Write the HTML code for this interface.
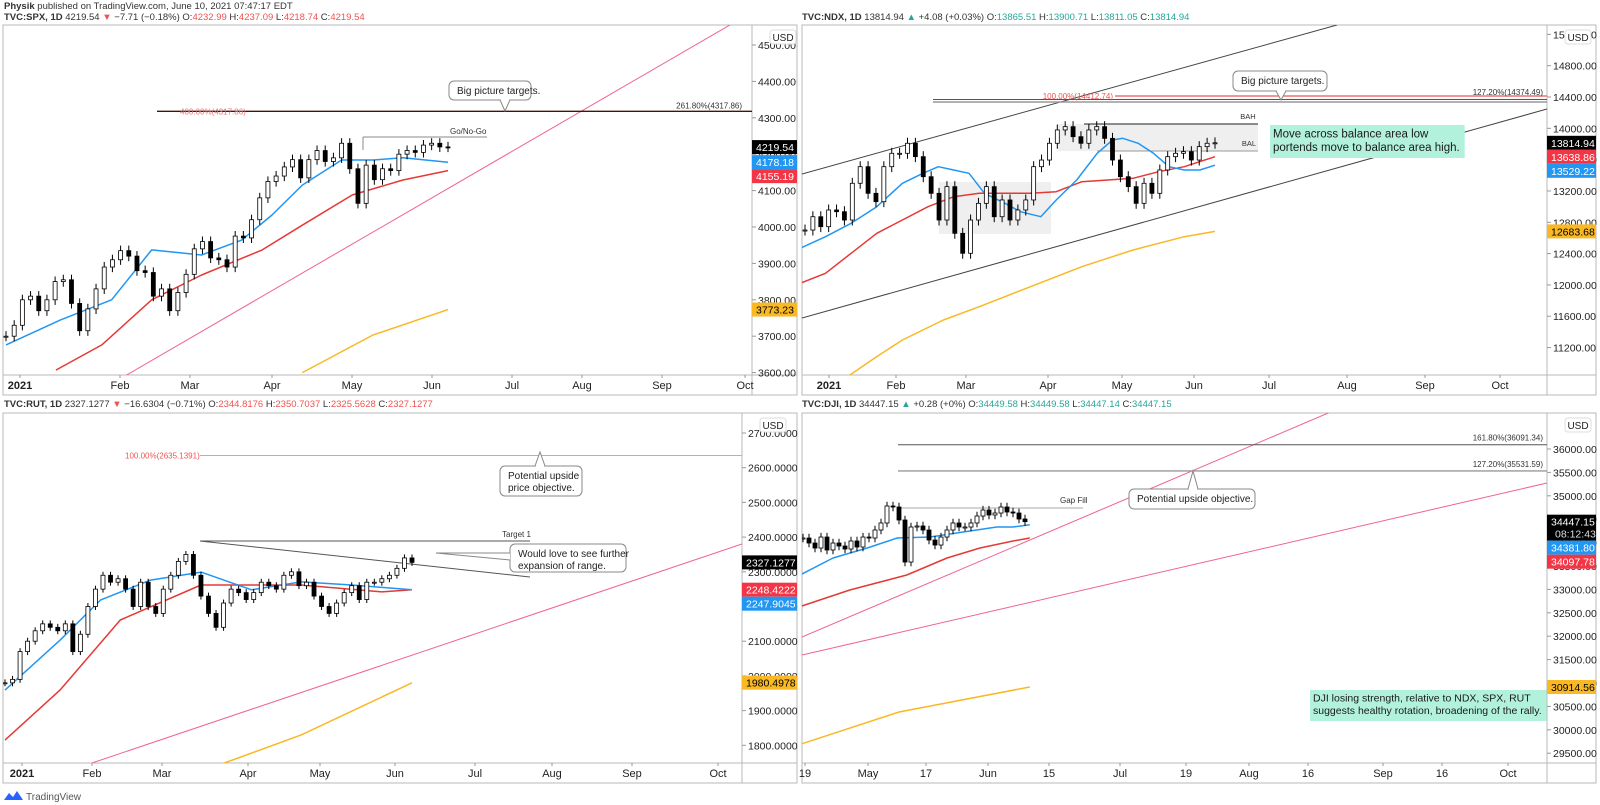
<!DOCTYPE html>
<html><head><meta charset="utf-8">
<style>
body{margin:0;background:#fff;}
svg{display:block;font-family:"Liberation Sans",sans-serif;}
</style></head>
<body>
<svg id="c" width="1600" height="805" viewBox="0 0 1600 805" xmlns="http://www.w3.org/2000/svg">
<rect x="0" y="0" width="1600" height="805" fill="#fff"/>
<text x="4" y="9" font-size="9.5" fill="#333"><tspan font-weight="bold">Physik</tspan> published on TradingView.com, June 10, 2021 07:47:17 EDT</text>
<text x="4" y="20" font-size="9.5" fill="#333"><tspan font-weight="bold">TVC:SPX, 1D</tspan> 4219.54 <tspan fill="#ef5350">▼</tspan> −7.71 (−0.18%) O:<tspan fill="#ef5350">4232.99</tspan> H:<tspan fill="#ef5350">4237.09</tspan> L:<tspan fill="#ef5350">4218.74</tspan> C:<tspan fill="#ef5350">4219.54</tspan></text>
<text x="802" y="20" font-size="9.5" fill="#333"><tspan font-weight="bold">TVC:NDX, 1D</tspan> 13814.94 <tspan fill="#26a69a">▲</tspan> +4.08 (+0.03%) O:<tspan fill="#26a69a">13865.51</tspan> H:<tspan fill="#26a69a">13900.71</tspan> L:<tspan fill="#26a69a">13811.05</tspan> C:<tspan fill="#26a69a">13814.94</tspan></text>
<text x="4" y="407" font-size="9.5" fill="#333"><tspan font-weight="bold">TVC:RUT, 1D</tspan> 2327.1277 <tspan fill="#ef5350">▼</tspan> −16.6304 (−0.71%) O:<tspan fill="#ef5350">2344.8176</tspan> H:<tspan fill="#ef5350">2350.7037</tspan> L:<tspan fill="#ef5350">2325.5628</tspan> C:<tspan fill="#ef5350">2327.1277</tspan></text>
<text x="802" y="407" font-size="9.5" fill="#333"><tspan font-weight="bold">TVC:DJI, 1D</tspan> 34447.15 <tspan fill="#26a69a">▲</tspan> +0.28 (+0%) O:<tspan fill="#26a69a">34449.58</tspan> H:<tspan fill="#26a69a">34449.58</tspan> L:<tspan fill="#26a69a">34447.14</tspan> C:<tspan fill="#26a69a">34447.15</tspan></text>
<g>
<path d="M4 800 L9 793 L13 797 L17 791 L23 800 Z" fill="#2962ff"/>
<text x="26" y="800" font-size="10" fill="#555">TradingView</text>
</g>
</svg>
<script>
// ---------- DATA ----------
const SPX_CLOSE=[3700,3730,3800,3810,3770,3800,3850,3855,3790,3715,3775,3830,3890,3910,3935,3920,3880,3875,3810,3830,3770,3820,3870,3940,3960,3915,3910,3890,3975,3970,4020,4080,4125,4140,4165,4185,4135,4185,4210,4180,4190,4230,4160,4065,4170,4130,4160,4155,4200,4210,4205,4225,4230,4220,4219.54];
const SPX_BLUE_IDX=[0,6.7,12.9,17.8,23.9,28.8,32.5,36.2,41,44.8,48.5,54];
const SPX_BLUE=[3676,3745,3800,3937,3923,3964,4033,4115,4184,4184,4190,4178];
const SPX_RED_IDX=[6.1,11.7,17.8,23.9,31.3,36.2,42.3,48.5,54];
const SPX_RED=[3607,3676,3800,3868,3937,4005,4088,4129,4155];
const SPX_YEL_IDX=[36.2,44.8,54];
const SPX_YEL=[3600,3703,3773];
const SPX_TICKS=[3600,3700,3800,3900,4000,4100,4200,4300,4400,4500];
const SPX_LABEL_VALS=[4219.54,4178.18,4155.19,3773.23];

const NDX_CLOSE=[12701,12871,12744,12957,12935,12829,13298,13510,13170,13063,13510,13681,13681,13809,13638,13382,13170,12829,13255,12659,12404,12829,13042,13255,12871,13085,12829,12957,13085,13510,13595,13809,13979,14021,13893,13809,13979,14021,13872,13595,13382,13255,13042,13298,13170,13468,13638,13681,13702,13595,13766,13809,13814.94];
const NDX_BLUE_IDX=[-0.65,2.6,5.85,9.1,12.35,14.95,16.9,18.86,20.8,22.76,25.36,27.3,29.9,31.86,34.46,37.06,39,40.3,42.26,44.2,46.16,48.1,50.07,52];
const NDX_BLUE=[12467,12616,12787,12999,13298,13425,13510,13468,13425,13170,13042,12935,12871,13085,13340,13681,13851,13872,13809,13681,13510,13468,13468,13529];
const NDX_RED_IDX=[-0.65,2.6,5.85,9.1,12.35,15.6,18.86,22.1,25.36,28.6,31.86,35.1,38.4,41.6,44.86,48.1,52];
const NDX_RED=[12020,12148,12404,12659,12829,12999,13127,13170,13170,13170,13191,13318,13340,13362,13446,13510,13638];
const NDX_YEL_IDX=[5.5,9.1,12.35,17.55,22.1,28.6,35.1,41.6,48.1,52];
const NDX_YEL=[10837,11084,11297,11552,11722,11977,12233,12446,12616,12683];
const NDX_TICKS=[11200,11600,12000,12400,12800,13200,13600,14000,14400,14800,15200];
const NDX_LABEL_VALS=[13814.94,13638.86,13529.22,12683.68];

const RUT_CLOSE=[1980,1990,2070,2100,2130,2150,2140,2130,2150,2070,2120,2200,2250,2290,2270,2280,2250,2200,2270,2200,2180,2250,2290,2330,2350,2290,2230,2180,2140,2210,2250,2240,2220,2240,2270,2260,2250,2290,2300,2260,2270,2230,2200,2180,2210,2240,2260,2220,2270,2270,2280,2290,2310,2340,2327.13];
const RUT_BLUE_IDX=[0,7.3,12.7,19.3,26,32.7,39.3,46,50,54];
const RUT_BLUE=[1959,2103,2219,2276,2299,2248,2271,2262,2255,2248];
const RUT_RED_IDX=[0,7.3,15.3,26,39.3,50,54];
const RUT_RED=[1815,1959,2161,2262,2262,2242,2248];
const RUT_YEL_IDX=[24.7,39.3,54];
const RUT_YEL=[1714,1830,1980];
const RUT_TICKS=[1800,1900,2000,2100,2200,2300,2400,2500,2600,2700];
const RUT_LABEL_VALS=[2327.1277,2248.4222,2247.9045,1980.4978];

const DJI_CLOSE=[34098,33991,33884,34119,33842,33991,33927,33863,34034,33906,34119,34098,34269,34419,34782,34761,34483,33585,34333,34355,34269,34055,33948,34119,34269,34419,34333,34333,34419,34568,34696,34590,34632,34761,34654,34632,34504,34447.15];
const DJI_BLUE_IDX=[-0.5,5,10.7,15.7,21.2,26.7,32.3,35,37.8];
const DJI_BLUE=[33307,33671,33884,34098,34119,34226,34333,34333,34382];
const DJI_RED_IDX=[-2.2,7.8,17.3,24,29.5,35,37.8];
const DJI_RED=[32559,32987,33307,33671,33884,34034,34098];
const DJI_YEL_IDX=[-0.2,16,37.8];
const DJI_YEL=[29700,30380,30914];
const DJI_TICKS=[29500,30000,30500,31000,31500,32000,32500,33000,33500,34000,34500,35000,35500,36000];
const DJI_LABEL_VALS=[34447.15,34381.80,34097.78,30914.56];

const LEFT_MONTHS=['2021','Feb','Mar','Apr','May','Jun','Jul','Aug','Sep','Oct'];
const DJI_MONTHS=['19','May','17','Jun','15','Jul','19','Aug','16','Sep','16','Oct'];

// ---------- RENDER ----------
const NS='http://www.w3.org/2000/svg';
const svg=document.getElementById('c');
function el(tag,attrs,parent){const e=document.createElementNS(NS,tag);for(const k in attrs)e.setAttribute(k,attrs[k]);(parent||svg).appendChild(e);return e;}

function makePanel(cfg){
  const P=Object.assign({},cfg);
  P.yOf=p=>P.y0+(P.p0-p)*P.k;
  P.xOf=i=>P.first+i*(P.last-P.first)/(P.n-1);
  const g=el('g',{});
  
  
  P.g=g;
  const cp=el('clipPath',{id:P.name+'-clip'},g);
  el('rect',{x:P.left,y:P.top,width:P.right-P.left,height:P.bottom-P.top},cp);
  const b=el('rect',{x:P.left,y:P.top,width:P.axisR-P.left,height:P.outerB-P.top,fill:'none',stroke:'#b8b8b8','stroke-width':1},g);
  
  
  el('line',{x1:P.right,y1:P.top,x2:P.right,y2:P.outerB,stroke:'#b8b8b8'},g);
  el('line',{x1:P.left,y1:P.bottom,x2:P.axisR,y2:P.bottom,stroke:'#b8b8b8'},g);
  P.plot=el('g',{'clip-path':'url(#'+P.name+'-clip)'},g);
  return P;
}

function polyline(P,idx,vals,color,name,w){
  const pts=idx.map((i,k)=>P.xOf(i).toFixed(1)+','+P.yOf(vals[k]).toFixed(1)).join(' ');
  const l=el('polyline',{points:pts,fill:'none',stroke:color,'stroke-width':w||1.5,'stroke-linejoin':'round'},P.plot);
  
  
}

function candles(P,closes,wick,bw){
  closes.forEach((c,i)=>{
    const o=i>0?closes[i-1]:closes[0];
    const hi=Math.max(o,c)+wick, lo=Math.min(o,c)-wick;
    const x=P.xOf(i);
    const w=el('line',{x1:x,y1:P.yOf(hi),x2:x,y2:P.yOf(lo),stroke:'#000','stroke-width':1},P.plot);
    
    
    const yt=P.yOf(Math.max(o,c)), yb=P.yOf(Math.min(o,c));
    const r=el('rect',{x:x-bw/2,y:yt,width:bw,height:Math.max(1,yb-yt),fill:c>=o?'#fff':'#000',stroke:'#000','stroke-width':0.8},P.plot);
    
    
  });
}

function axis(P,ticks,dec){
  ticks.forEach(t=>{
    const y=P.yOf(t); if(y<P.top+4||y>P.bottom-2)return;
    el('line',{x1:P.right,y1:y,x2:P.right+4,y2:y,stroke:'#999'},P.g);
    const tx=el('text',{x:P.right+6,y:y+4,'font-size':10.5,fill:'#222'},P.g);
    tx.textContent=t.toFixed(dec);
    
    
  });
  const u=el('rect',{x:P.right+18,y:P.top+5,width:26,height:14,rx:3,fill:'#fff',stroke:'#ddd'},P.g);
  
  
  const ut=el('text',{x:P.right+31,y:P.top+16,'font-size':10,fill:'#222','text-anchor':'middle'},P.g);
  ut.textContent='USD';
  
  
}

function priceLabels(P,vals,colors,dec,extra){
  let lastBottom=-1e9;
  vals.forEach((v,k)=>{
    const h=(k===0&&extra)?26:14;
    let yc=P.yOf(v); let top=yc-7;
    if(top<lastBottom)top=lastBottom;
    lastBottom=top+h;
    const r=el('rect',{x:P.right,y:top,width:P.axisR-P.right,height:h,fill:colors[k]},P.g);
    
    
    const t=el('text',{x:P.right+4,y:top+11,'font-size':10.5,fill:colors[k]==='#f9b824'?'#000':'#fff'},P.g);
    t.textContent=v.toFixed(dec);
    
    
    if(k===0&&extra){const t2=el('text',{x:P.right+8,y:top+23,'font-size':10.5,fill:'#ddd'},P.g);t2.textContent=extra;
      
      }
  });
}

function timeAxis(P,names,xs){
  names.forEach((n,k)=>{
    const x=xs[k]; if(x>P.right-4)return;
    el('line',{x1:x,y1:P.bottom,x2:x,y2:P.bottom+3,stroke:'#999'},P.g);
    const t=el('text',{x:x,y:P.bottom+14,'font-size':11,fill:'#222','text-anchor':'middle','font-weight':(n==='2021')?'bold':'normal'},P.g);
    t.textContent=n;
    
    
  });
}

function line(P,x1,y1,x2,y2,color,name,w){
  const l=el('line',{x1,y1,x2,y2,stroke:color,'stroke-width':w||1},P.plot);
  
  
  return l;
}
function txt(P,x,y,s,size,color,name,anchor){
  const t=el('text',{x,y,'font-size':size,fill:color,'text-anchor':anchor||'start'},P.plot);
  t.textContent=s;
  
  
  return t;
}
function callout(P,x,y,w,h,lines,px,py,name){
  const g=el('g',{},P.plot);
  
  
  el('rect',{x,y,width:w,height:h,rx:5,fill:'#fff',stroke:'#888'},g);
  if(px!==null){
    const up=py<y;
    const by=up?y:y+h;
    el('polyline',{points:(px-5)+','+by+' '+px+','+py+' '+(px+5)+','+by,fill:'#fff',stroke:'#888'},g);
    el('line',{x1:px-4,y1:by,x2:px+4,y2:by,stroke:'#fff','stroke-width':2},g);
  }
  lines.forEach((s,i)=>{const t=el('text',{x:x+8,y:y+13+i*12,'font-size':10,fill:'#222'},g);t.textContent=s;});
  return g;
}
function noteBox(P,x,y,lines,size,name){
  const g=el('g',{},P.plot);
  
  
  const r=el('rect',{x,y,width:10,height:lines.length*(size+2)+6,fill:'#b2f2dc'},g);
  let mw=0;
  lines.forEach((s,i)=>{const t=el('text',{x:x+3,y:y+size+1+i*(size+2),'font-size':size,fill:'#1a1a1a'},g);t.textContent=s;mw=Math.max(mw,t.getComputedTextLength());});
  r.setAttribute('width',mw+8);
  return r;
}

// ----- SPX -----
const spx=makePanel({name:'spx',left:3,right:752,axisR:797,top:25,bottom:375,outerB:395,p0:4500,y0:45,k:0.364,first:6,last:448,n:SPX_CLOSE.length});
line(spx,118,380,735,22,'#f06292','spx-trendline');
line(spx,157,spx.yOf(4317.86),752,spx.yOf(4317.86),'#4a1010','spx-fib-261-line',1.4);
txt(spx,180,spx.yOf(4317.86)+3,'400.00%(4317.86)',8,'#e57373','spx-fib-400-label');
txt(spx,742,spx.yOf(4317.86)-3,'261.80%(4317.86)',8,'#333','spx-fib-261-label','end');
line(spx,363,137,487,137,'#888','go-no-go-line');
line(spx,363,137,363,150,'#888','go-no-go-tick');
txt(spx,450,134,'Go/No-Go',8,'#333','go-no-go-label');
callout(spx,449,81,82,19,['Big picture targets.'],505,111,'spx-callout');
polyline(spx,SPX_YEL_IDX,SPX_YEL,'#f9b824','spx-ma-200');
polyline(spx,SPX_RED_IDX,SPX_RED,'#e53935','spx-ma-50');
polyline(spx,SPX_BLUE_IDX,SPX_BLUE,'#2196f3','spx-ma-20');
candles(spx,SPX_CLOSE,14,4);
axis(spx,SPX_TICKS,2);
priceLabels(spx,SPX_LABEL_VALS,['#000','#2196f3','#f23645','#f9b824'],2);
timeAxis(spx,LEFT_MONTHS,[20,120,190,272,352,432,512,582,662,745]);

// ----- NDX -----
const ndx=makePanel({name:'ndx',left:802,right:1547,axisR:1596,top:25,bottom:375,outerB:395,p0:14400,y0:97,k:0.0783,first:805,last:1215,n:NDX_CLOSE.length});
const sh1=el('rect',{x:1058,y:124,width:200,height:27,fill:'#efefef'},ndx.plot);


const sh2=el('rect',{x:939,y:182,width:112,height:52,fill:'#efefef'},ndx.plot);


line(ndx,802,174,1337,25,'#444','ndx-channel-upper');
line(ndx,802,318,1547,109,'#444','ndx-channel-lower');
line(ndx,933,102,1547,102,'#999','ndx-target-line-gray',1.4);
line(ndx,933,99.5,1547,99.5,'#555','ndx-target-line-dark');
line(ndx,1115,96,1547,96,'#ef5350','ndx-fib-100-line',1.2);
txt(ndx,1113,99,'100.00%(14412.74)',8,'#ef5350','ndx-fib-100-label','end');
txt(ndx,1543,95,'127.20%(14374.49)',8,'#333','ndx-fib-127-label','end');
line(ndx,1084,124,1258,124,'#222','bah-line');
txt(ndx,1248,119,'BAH',7.5,'#333','bah-label','middle');
line(ndx,1097,151,1258,151,'#999','bal-line');
txt(ndx,1249,146,'BAL',7.5,'#333','bal-label','middle');
callout(ndx,1233,71,94,20,['Big picture targets.'],1281,100,'ndx-callout');
polyline(ndx,NDX_YEL_IDX,NDX_YEL,'#f9b824','ndx-ma-200');
polyline(ndx,NDX_RED_IDX,NDX_RED,'#e53935','ndx-ma-50');
polyline(ndx,NDX_BLUE_IDX,NDX_BLUE,'#2196f3','ndx-ma-20');
candles(ndx,NDX_CLOSE,70,4);
noteBox(ndx,1270,125,['Move across balance area low','portends move to balance area high.'],11.5,'ndx-note');
axis(ndx,NDX_TICKS,2);
priceLabels(ndx,NDX_LABEL_VALS,['#000','#f23645','#2196f3','#f9b824'],2);
timeAxis(ndx,LEFT_MONTHS,[829,896,966,1048,1122,1194,1269,1347,1425,1500]);

// ----- RUT -----
const rut=makePanel({name:'rut',left:3,right:742,axisR:797,top:413,bottom:763,outerB:783,p0:2700,y0:433,k:0.347,first:5,last:412,n:RUT_CLOSE.length});
line(rut,92,763,742,544,'#f06292','rut-trendline');
line(rut,200,rut.yOf(2635.1391),742,rut.yOf(2635.1391),'#ef9a9a','rut-fib-100-line');
txt(rut,125,rut.yOf(2635.1391)+3,'100.00%(2635.1391)',8,'#ef5350','rut-fib-100-label');
line(rut,200,541,530,541,'#555','target-1-line');
txt(rut,502,537,'Target 1',8,'#333','target-1-label');
line(rut,200,541,530,577,'#555','rut-range-line');
callout(rut,500,466,82,30,['Potential upside','price objective.'],540,452,'rut-callout');
const rc=callout(rut,510,544,116,28,['Would love to see further','expansion of range.'],null,null,'rut-range-callout');
const ptr=el('polyline',{points:'510,553 436,553 510,560',fill:'#fff',stroke:'#888'},rc);


polyline(rut,RUT_YEL_IDX,RUT_YEL,'#f9b824','rut-ma-200');
polyline(rut,RUT_RED_IDX,RUT_RED,'#e53935','rut-ma-50');
polyline(rut,RUT_BLUE_IDX,RUT_BLUE,'#2196f3','rut-ma-20');
candles(rut,RUT_CLOSE,10,4);
axis(rut,RUT_TICKS,4);
priceLabels(rut,RUT_LABEL_VALS,['#000','#f23645','#2196f3','#f9b824'],4);
timeAxis(rut,LEFT_MONTHS,[22,92,162,248,320,395,475,552,632,718]);

// ----- DJI -----
const dji=makePanel({name:'dji',left:802,right:1547,axisR:1596,top:413,bottom:763,outerB:783,p0:36000,y0:449,k:0.0468,first:803,last:1025,n:DJI_CLOSE.length});
line(dji,802,637,1340,408,'#f06292','dji-trendline-steep');
line(dji,802,655,1547,483,'#f06292','dji-trendline-shallow');
line(dji,898,dji.yOf(36091.34),1547,dji.yOf(36091.34),'#555','dji-fib-161-line');
txt(dji,1543,dji.yOf(36091.34)-4,'161.80%(36091.34)',8,'#333','dji-fib-161-label','end');
line(dji,898,dji.yOf(35531.59),1547,dji.yOf(35531.59),'#999','dji-fib-127-line',1.3);
txt(dji,1543,dji.yOf(35531.59)-4,'127.20%(35531.59)',8,'#333','dji-fib-127-label','end');
line(dji,898,508,1083,508,'#aaa','gap-fill-line');
txt(dji,1060,503,'Gap Fill',8,'#333','gap-fill-label');
callout(dji,1129,489,126,20,['Potential upside objective.'],1193,471,'dji-callout');
polyline(dji,DJI_YEL_IDX,DJI_YEL,'#f9b824','dji-ma-200');
polyline(dji,DJI_RED_IDX,DJI_RED,'#e53935','dji-ma-50');
polyline(dji,DJI_BLUE_IDX,DJI_BLUE,'#2196f3','dji-ma-20');
candles(dji,DJI_CLOSE,90,4);
noteBox(dji,1310,690,['DJI losing strength, relative to NDX, SPX, RUT','suggests healthy rotation, broadening of the rally.'],10.5,'dji-note');
axis(dji,DJI_TICKS,2);
priceLabels(dji,DJI_LABEL_VALS,['#000','#2196f3','#f23645','#f9b824'],2,'08:12:43');
timeAxis(dji,DJI_MONTHS,[805,868,926,988,1049,1120,1186,1249,1308,1383,1442,1508]);
</script>
</body></html>
